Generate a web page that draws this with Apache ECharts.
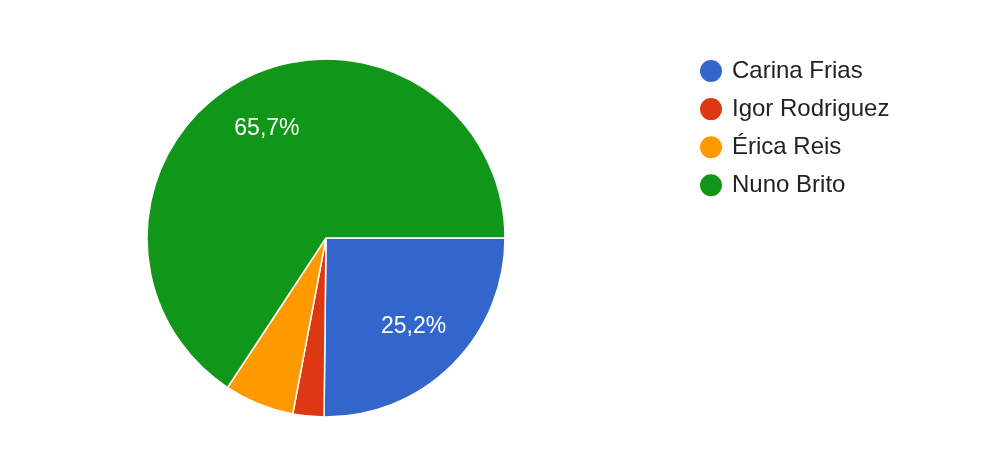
<!DOCTYPE html>
<html>
<head>
<meta charset="utf-8">
<script src="https://cdn.jsdelivr.net/npm/echarts@6/dist/echarts.min.js"></script>
<style>
html,body{margin:0;padding:0;background:#fff;}
#chart{width:994px;height:454px;}
</style>
</head>
<body>
<div id="chart"></div>
<script>
const categories = ['Carina Frias', 'Igor Rodriguez', 'Érica Reis', 'Nuno Brito'];
const values = [36, 4, 9, 94];
const colors = ['#3366cc', '#dc3912', '#ff9900', '#109618'];

const data = categories.map((name, i) => ({ name: name, value: values[i] }));
const font = '"Liberation Sans", Arial, sans-serif';

const chart = echarts.init(document.getElementById('chart'), null, { renderer: 'canvas' });
chart.setOption({
  animation: false,
  color: colors,
  legend: {
    orient: 'vertical',
    left: 698,
    top: 58,
    padding: 0,
    icon: 'circle',
    itemWidth: 24,
    itemHeight: 24,
    itemGap: 12.1,
    textStyle: { fontFamily: font, fontSize: 24, color: '#222222', lineHeight: 24, padding: [0, 0, 0, 4] },
    data: categories
  },
  series: [
    {
      type: 'pie',
      center: [326, 238],
      radius: [0, 179],
      startAngle: 0,
      clockwise: true,
      silent: true,
      itemStyle: { borderColor: '#ffffff', borderWidth: 1.5 },
      label: { show: false },
      labelLine: { show: false },
      data: data
    },
    {
      type: 'pie',
      center: [326, 238],
      radius: [64, 179],
      startAngle: 0,
      clockwise: true,
      silent: true,
      percentPrecision: 1,
      legendHoverLink: false,
      itemStyle: { color: 'rgba(0,0,0,0)', borderWidth: 0 },
      label: {
        show: true,
        position: 'inside',
        fontFamily: font,
        fontSize: 23,
        color: '#ffffff',
        formatter: p => p.percent >= 10 ? p.percent.toFixed(1).replace('.', ',') + '%' : ''
      },
      labelLine: { show: false },
      data: data.map(d => ({ name: d.name + ' ', value: d.value }))
    }
  ]
});
</script>
</body>
</html>
